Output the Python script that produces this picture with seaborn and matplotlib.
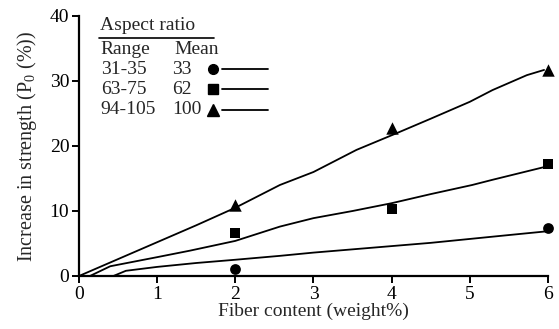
import matplotlib
matplotlib.use("Agg")
import matplotlib.pyplot as plt
import seaborn as sns

# Measured points
fiber_pts = [2, 4, 6]
circle_x = [2, 6]
circle_y = [1.1, 7.4]
square_y = [6.6, 10.3, 17.2]
triangle_y = [10.9, 22.8, 31.7]

# Theoretical curves
c33_x = [0.44, 0.6, 1.0, 1.5, 2.0, 2.57, 3.0, 3.5, 4.0, 4.5, 5.0, 5.5, 6.05]
c33_y = [0.0, 0.8, 1.4, 2.0, 2.5, 3.1, 3.6, 4.1, 4.6, 5.1, 5.7, 6.3, 6.95]
c62_x = [0.14, 0.4, 1.0, 1.42, 2.0, 2.57, 3.0, 3.5, 4.0, 4.5, 5.03, 5.29, 6.0]
c62_y = [0.0, 1.5, 2.9, 3.9, 5.4, 7.6, 8.9, 10.0, 11.2, 12.6, 14.0, 14.8, 16.9]
c100_x = [0.0, 0.5, 1.0, 1.5, 2.0, 2.57, 3.0, 3.55, 4.07, 4.5, 5.0, 5.29, 5.73, 5.95]
c100_y = [0.0, 2.6, 5.2, 7.8, 10.5, 14.0, 16.0, 19.4, 22.0, 24.2, 26.8, 28.6, 30.9, 31.7]

legend_ranges = ["31-35", "63-75", "94-105"]
legend_means = ["33", "62", "100"]
legend_markers = ["o", "s", "^"]

sns.set_theme(style="ticks")
plt.rcParams["font.family"] = ["Liberation Serif", "DejaVu Serif"]
plt.rcParams["mathtext.fontset"] = "custom"
plt.rcParams["mathtext.rm"] = "Liberation Serif"

fig = plt.figure(figsize=(5.59, 3.29), dpi=100)
ax = fig.add_axes([0.1413, 0.1611, 0.839, 0.7903])

for cx, cy in [(c33_x, c33_y), (c62_x, c62_y), (c100_x, c100_y)]:
    sns.lineplot(x=cx, y=cy, ax=ax, color="black", linewidth=1.3,
                 sort=False, estimator=None, clip_on=False)

sns.scatterplot(x=circle_x, y=circle_y, ax=ax, marker="o", color="black",
                s=60, edgecolor="black", linewidth=0, clip_on=False, zorder=5)
sns.scatterplot(x=fiber_pts, y=square_y, ax=ax, marker="s", color="black",
                s=60, edgecolor="black", linewidth=0, clip_on=False, zorder=5)
sns.scatterplot(x=fiber_pts, y=triangle_y, ax=ax, marker="^", color="black",
                s=80, edgecolor="black", linewidth=0, clip_on=False, zorder=5)

ax.set_xlim(0, 6)
ax.set_ylim(0, 40)
ax.set_xticks(range(0, 7))
ax.set_yticks([0, 10, 20, 30, 40])
sns.despine(ax=ax)
for s in ["left", "bottom"]:
    ax.spines[s].set_linewidth(1.6)
    ax.spines[s].set_color("black")
ax.tick_params(axis="both", direction="out", length=5, width=1.4,
               labelsize=14, colors="black", pad=2)
ax.set_xlabel("Fiber content (weight%)", fontsize=14, labelpad=0)
ax.set_ylabel(r"Increase in strength ($\mathrm{P}_{\mathrm{0}}$ (%))", fontsize=14.5, labelpad=8)

# Legend-like table
fs = 14
ax.text(0.27, 38.6, "Aspect ratio", fontsize=fs, va="center", ha="left")
ax.plot([0.26, 1.73], [36.6, 36.6], color="black", linewidth=1.2, clip_on=False)
ax.text(0.28, 34.9, "Range", fontsize=fs, va="center", ha="left")
ax.text(1.22, 34.9, "Mean", fontsize=fs, va="center", ha="left")
rows_y = [31.8, 28.7, 25.6]
for r, m, mk, yy in zip(legend_ranges, legend_means, legend_markers, rows_y):
    ax.text(0.28, yy, r, fontsize=fs, va="center", ha="left")
    ax.text(1.19, yy, m, fontsize=fs, va="center", ha="left")
    ax.plot([1.71], [yy], marker=mk, color="black", markersize=7 if mk != "^" else 8,
            linestyle="none")
    ax.plot([1.83, 2.42], [yy, yy], color="black", linewidth=1.3)

fig.savefig("out.png", dpi=100)
